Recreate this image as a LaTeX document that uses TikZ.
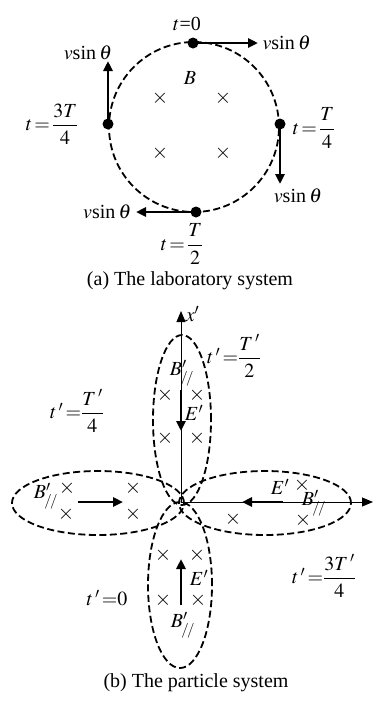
\documentclass[tikz,border=0pt]{standalone}
\usepackage{amsmath}
\usepackage{mathptmx}
\usepackage{fontspec}
\setmainfont{Liberation Serif}
\usepackage{tikz}
\usetikzlibrary{positioning,arrows.meta}

\newcommand{\Bpar}{$B'_{\!/\!/}$}
\newcommand{\vsin}{$v$sin\,$\theta$}

\begin{document}
\begin{tikzpicture}[x=1pt, y=-1pt, font=\fontsize{20}{23}\selectfont,
    tratto/.style={dash pattern=on 7pt off 3.5pt, line width=1.8pt},
    freccia/.style={-{Triangle[length=10pt, width=9pt]}, line width=2.6pt},
    asse/.style={-{Triangle[length=11pt, width=9pt]}, line width=0.9pt},
    croce/.style={inner sep=0pt, font=\fontsize{21}{21}\selectfont},
    campo/.style={inner sep=0pt},
    punto/.style={circle, fill, inner sep=0pt, minimum size=11pt}]
    \useasboundingbox (0,0) rectangle (378,702);

    % (a) Sistema di laboratorio
    \draw[tratto] (194,127) circle[radius=85pt];

    % Punti sulla traiettoria
    \node[punto] (P0) at (193,43) {};
    \node[punto] (P1) at (280,124) {};
    \node[punto] (P2) at (196,212) {};
    \node[punto] (P3) at (108,124) {};

    % Velocita'
    \coordinate (V0) at (258,43);
    \coordinate (V1) at (280,184);
    \coordinate (V2) at (136,212);
    \coordinate (V3) at (108,61);
    \draw[freccia] (P0.center) -- (V0);
    \draw[freccia] (P1.center) -- (V1);
    \draw[freccia] (P2.center) -- (V2);
    \draw[freccia] (P3.center) -- (V3);
    \node[right=1pt of V0] (v0) {\vsin};
    \node[below=1pt of V1, xshift=18pt] (v1) {\vsin};
    \node[left=1pt of V2] (v2) {\vsin};
    \node[above=-2pt of V3, xshift=-20pt] (v3) {\vsin};

    % Istanti
    \node (t0) at (187,24) {$t$=0};
    \node (t1) at (314,128) {$t\!=\!\dfrac{T}{4}$};
    \node (t2) at (182,244) {$t\!=\!\dfrac{T}{2}$};
    \node (t3) at (52,124) {$t\!=\!\dfrac{3T}{4}$};

    % Campo B
    \node (B) at (190,78) {$B$};
    \node[croce] (c1) at (160,98) {$\times$};
    \node[croce] (c2) at (223,98) {$\times$};
    \node[croce] (c3) at (160,153) {$\times$};
    \node[croce] (c4) at (223,153) {$\times$};

    \node (capA) at (190,281) {(a) The laboratory system};

    % (b) Sistema della particella
    \coordinate (O) at (181,502);
    \coordinate (Xt) at (181,311);
    \coordinate (Xr) at (373,502);
    \draw[asse] (O) -- (Xt) node[right=1pt, yshift=-3pt] (xl) {$x'$};
    \draw[asse] (O) -- (Xr);

    % Ellissi
    \draw[tratto] (182,420) ellipse[x radius=29pt, y radius=85pt];
    \draw[tratto] (180,585) ellipse[x radius=32pt, y radius=83pt];
    \draw[tratto] (98,503) ellipse[x radius=86pt, y radius=32pt];
    \draw[tratto] (265,503) ellipse[x radius=86pt, y radius=32pt];

    % Ellisse in alto
    \node[croce] (u1) at (165,395) {$\times$};
    \node[croce] (u2) at (197,395) {$\times$};
    \node[croce] (u3) at (165,438) {$\times$};
    \node[croce] (u4) at (197,438) {$\times$};
    \coordinate (Eu0) at (181,390);
    \coordinate (Eu1) at (181,431);
    \draw[freccia] (Eu0) -- (Eu1);
    \node[campo] (Eu) at (194,413) {$E'$};
    \node[campo] (Bu) at (182,373) {\Bpar};
    \node (tu) at (234,356) {$t\,'\,{=}\dfrac{T\,'}{2}$};
    \node (tl) at (77,411) {$t\,'\,{=}\dfrac{T\,'}{4}$};

    % Ellisse a sinistra
    \node[croce] (l1) at (67,488) {$\times$};
    \node[croce] (l2) at (66,514) {$\times$};
    \node[croce] (l3) at (133,488) {$\times$};
    \node[croce] (l4) at (133,514) {$\times$};
    \coordinate (El0) at (78,502);
    \coordinate (El1) at (123,502);
    \draw[freccia] (El0) -- (El1);
    \node[campo] (Bl) at (46,496) {\Bpar};

    % Ellisse a destra
    \node[croce] (r1) at (302,485) {$\times$};
    \node[croce] (r2) at (303,520) {$\times$};
    \node[croce] (r3) at (233,519) {$\times$};
    \coordinate (Er0) at (283,502);
    \coordinate (Er1) at (242,502);
    \draw[freccia] (Er0) -- (Er1);
    \node[campo] (Er) at (280,487) {$E'$};
    \node[campo] (Br) at (314,503) {\Bpar};
    \node (tr) at (324,576) {$t\,'\,{=}\dfrac{3T\,'}{4}$};

    % Ellisse in basso
    \node[croce] (d1) at (163,555) {$\times$};
    \node[croce] (d2) at (197,555) {$\times$};
    \node[croce] (d3) at (163,600) {$\times$};
    \node[croce] (d4) at (198,600) {$\times$};
    \coordinate (Ed0) at (181,605);
    \coordinate (Ed1) at (181,559);
    \draw[freccia] (Ed0) -- (Ed1);
    \node[campo] (Ed) at (199,578) {$E'$};
    \node[campo] (Bd) at (183,625) {\Bpar};
    \node (td) at (107,598) {$t\,'\,{=}0$};

    \node (capB) at (196,683) {(b) The particle system};
\end{tikzpicture}
\end{document}
